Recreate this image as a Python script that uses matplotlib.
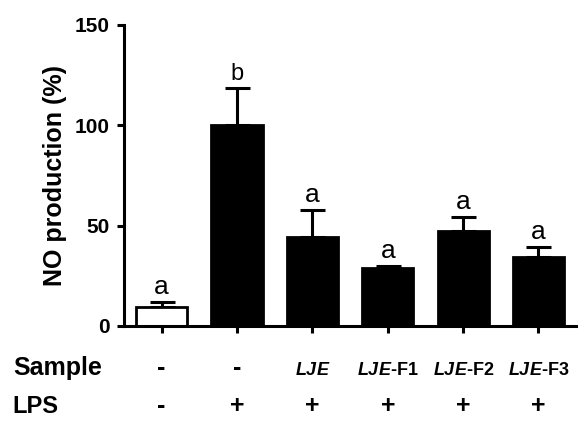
import numpy as np
import matplotlib
matplotlib.use("Agg")
import matplotlib.pyplot as plt
import matplotlib.transforms as mtransforms

plt.rcParams['font.family'] = ['Liberation Sans', 'DejaVu Sans']
plt.rcParams['mathtext.fontset'] = 'custom'
plt.rcParams['mathtext.bfit'] = 'Liberation Sans:italic:bold'
plt.rcParams['mathtext.rm'] = 'Liberation Sans:bold'

# data
values = [9.5, 100, 44.5, 29, 47.5, 34.5]
errors = [2.6, 18.7, 13.3, 1.0, 6.7, 4.8]
letters = ['a', 'b', 'a', 'a', 'a', 'a']
sample_labels = ['-', '-', r'$\mathbfit{LJE}$', r'$\mathbfit{LJE}$-F1',
                 r'$\mathbfit{LJE}$-F2', r'$\mathbfit{LJE}$-F3']
lps_labels = ['-', '+', '+', '+', '+', '+']
colors = ['white', 'black', 'black', 'black', 'black', 'black']

x = np.arange(len(values))

fig = plt.figure(figsize=(5.82, 4.21), dpi=100)
ax = fig.add_axes([0.213, 0.2257, 0.777, 0.715])

ax.bar(x, values, width=0.68, color=colors, edgecolor='black', linewidth=2, zorder=2)
ax.errorbar(x, values, yerr=[np.zeros(len(errors)), errors], fmt='none',
            ecolor='black', elinewidth=2.2, capsize=9, capthick=2.2, zorder=1)

# significance letters
for xi, v, e, l in zip(x, values, errors, letters):
    ax.text(xi, v + e + 4, l, ha='center', va='baseline',
            fontsize=19 if l == 'a' else 17)

ax.set_xlim(-0.5, 5.5)
ax.set_ylim(0, 150)
ax.set_yticks([0, 50, 100, 150])
ax.set_xticks(x)
ax.set_xticklabels([])
ax.spines['top'].set_visible(False)
ax.spines['right'].set_visible(False)
ax.spines['left'].set_linewidth(2.2)
ax.spines['bottom'].set_linewidth(2.2)
ax.tick_params(axis='both', width=2.2, length=5, direction='out')
ax.tick_params(axis='y', labelsize=15, pad=5)
for t in ax.get_yticklabels():
    t.set_fontweight('bold')
ax.set_ylabel('NO production (%)', fontsize=18, fontweight='bold', labelpad=6)

trans = mtransforms.blended_transform_factory(ax.transData, fig.transFigure)
fig.text(0.022, 0.11, 'Sample', fontsize=18, fontweight='bold', va='baseline', ha='left')
fig.text(0.022, 0.02, 'LPS', fontsize=17, fontweight='bold', va='baseline', ha='left')
for xi, s, p in zip(x, sample_labels, lps_labels):
    ax.text(xi, 0.11, s, transform=trans, ha='center', va='baseline',
            fontsize=18 if s == '-' else 13, fontweight='bold')
    ax.text(xi, 0.02, p, transform=trans, ha='center', va='baseline',
            fontsize=18, fontweight='bold')

fig.savefig('out.png', dpi=100)
